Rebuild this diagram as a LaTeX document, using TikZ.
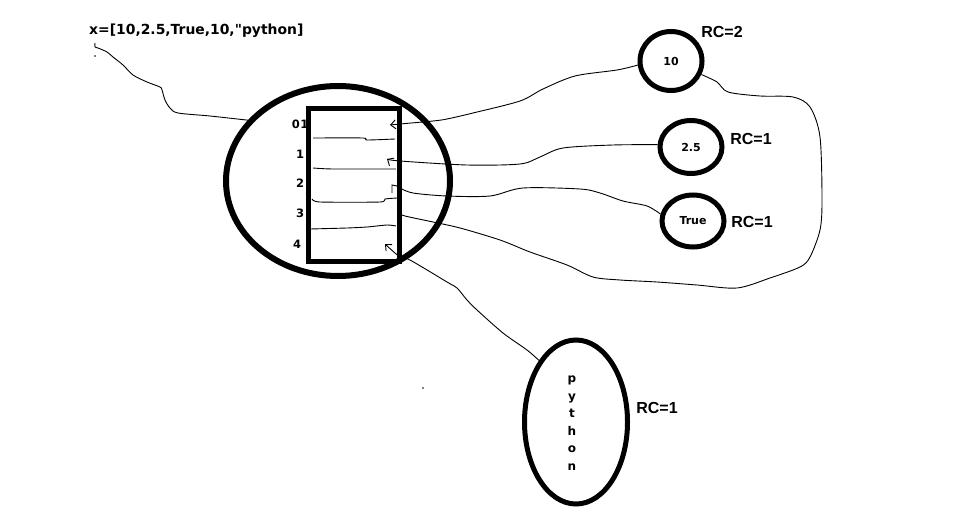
\documentclass[tikz,border=0pt]{standalone}
\usepackage{fontspec}
\setmainfont{DejaVu Sans}[Ligatures=TeXOff]
\newfontfamily\libfont{Liberation Sans}
\usetikzlibrary{shapes.geometric,arrows.meta}
\begin{document}
\begin{tikzpicture}[x=1pt,y=-1pt,
  obj/.style={draw, ellipse, line width=5pt, inner sep=0pt, font=\fontsize{11}{13}\selectfont\bfseries},
  conn/.style={line width=0.9pt},
  tip/.style={-{Straight Barb[length=5pt,width=9pt]}},
  rclabel/.style={font=\libfont\fontsize{16}{18}\selectfont\bfseries, inner sep=0pt},
  idx/.style={font=\fontsize{11.5}{13}\selectfont\bfseries, inner sep=0pt}]
\useasboundingbox[fill=white] (0,0) rectangle (976,524);
% title
\node[font=\fontsize{13.9}{16}\selectfont\bfseries, anchor=west, inner sep=0pt] (title) at (89,31) {x=[10,2.5,True,10,"python]};
% list object
\node[draw, ellipse, line width=6pt, minimum width=224pt, minimum height=190pt, inner sep=0pt] (big) at (338,181) {};
\node[draw, rectangle, line width=5pt, minimum width=91pt, minimum height=153pt, inner sep=0pt] (arr) at (354,185) {};
% index labels
\node[idx] (i0) at (300,124) {0\kern0.5pt1};
\node[idx] (i1) at (300,154) {1};
\node[idx] (i2) at (300,183) {2};
\node[idx] (i3) at (300,213) {3};
\node[idx] (i4) at (297,244) {4};
% separators
\draw[conn] plot[smooth,tension=.4] coordinates {(313,138) (363,138) (367,140) (395,139)};
\draw[conn] plot[smooth,tension=.4] coordinates {(313,168) (333,169) (396,169)};
\draw[conn] plot[smooth,tension=.4] coordinates {(312,199) (320,202) (380,202) (385,199) (397,198)};
\draw[conn] plot[smooth,tension=.4] coordinates {(310,229) (347,228) (367,227) (387,225) (396,226)};
% objects
\node[obj, minimum width=62pt, minimum height=59pt] (c10) at (671,61) {10};
\node[obj, minimum width=62pt, minimum height=53pt] (c25) at (691,147) {2.5};
\node[obj, minimum width=62pt, minimum height=52pt] (ctrue) at (693,221) {True};
\node[draw, ellipse, line width=5pt, minimum width=103pt, minimum height=164pt, inner sep=0pt] (cpy) at (576,422) {};
\node[font=\fontsize{12}{17.5}\selectfont\bfseries, align=center, inner sep=0pt] (pytxt) at (572,423) {p\\y\\t\\h\\o\\n};
% reference counts
\node[rclabel] (rc10) at (722,32) {RC=2};
\node[rclabel] (rc25) at (751,139) {RC=1};
\node[rclabel] (rctrue) at (752,222) {RC=1};
\node[rclabel] (rcpy) at (657,408) {RC=1};
% slot points
\coordinate (xs) at (95,43);
\coordinate (s0) at (390,125);
\coordinate (s1) at (387,159);
\coordinate (s2) at (392,185);
\coordinate (s3) at (398,213);
\coordinate (s4) at (385,244);
% connectors
\draw[conn] plot[smooth,tension=.5] coordinates {(xs) (95,47) (98,48) (107,52) (113,57) (123,65) (133,75) (147,82) (160,87) (162,90) (165,100) (170,108) (178,113) (210,116) (big.146)};
\draw[conn,tip] plot[smooth,tension=.5] coordinates {(c10.187) (617,70) (575,76) (543,89) (520,101) (473,113) (447,119) (433,121) (400,124) (s0)};
\draw[conn,tip] plot[smooth,tension=.5] coordinates {(c25.176) (613,145) (563,148) (540,157) (520,164) (467,165) (400,161) (s1)};
\draw[conn] plot[smooth,tension=.5] coordinates {(ctrue.168) (647,206) (623,201) (600,193) (580,189) (523,188) (490,196) (447,196) (413,193) (400,188) (397,186)} -- (s2) -- (392,193);
\draw[conn] plot[smooth,tension=.5] coordinates {(c10.336) (717,82) (728,92) (760,96) (793,97) (810,107) (820,137) (822,200) (820,230) (810,257) (800,267) (770,278) (737,288) (697,285) (657,282) (620,280) (593,277) (567,265) (530,252) (500,240) (460,228) (433,222) (405,216) (s3)};
\draw[conn,tip] plot[smooth,tension=.5] coordinates {(cpy.121) (527,350) (503,333) (477,310) (467,300) (457,288) (447,282) (410,260) (400,257) (s4)};
% stray dots
\fill (95,56) circle[radius=0.8pt];
\fill (423,388) circle[radius=0.8pt];
\end{tikzpicture}
\end{document}
